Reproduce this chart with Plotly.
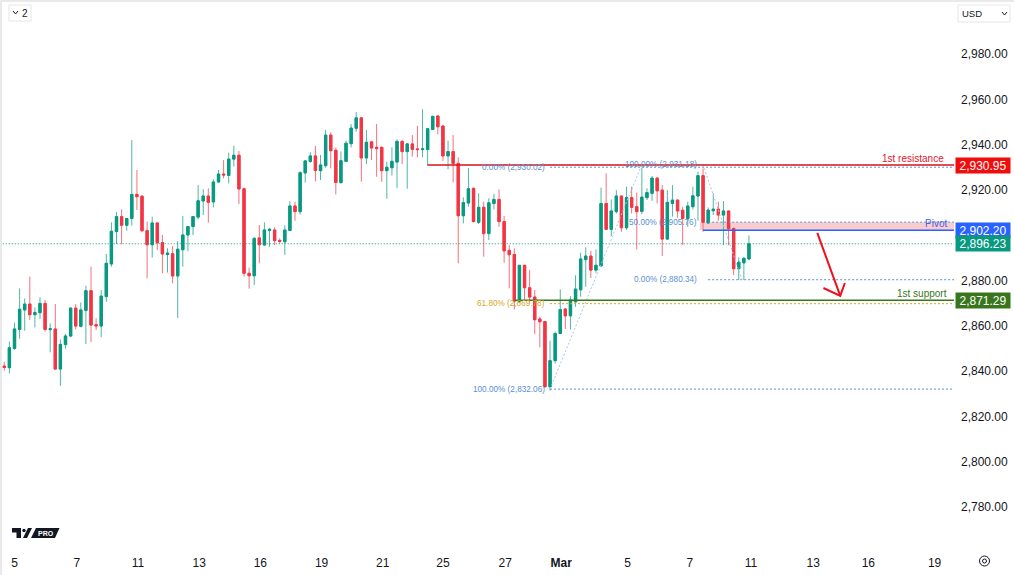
import plotly.graph_objects as go

# 2h bars
opens = [2842.2, 2841.5, 2850.0, 2858.4, 2867.0, 2869.6, 2864.9, 2865.8, 2869.9, 2858.3,
         2858.6, 2840.9, 2851.7, 2855.5, 2867.8, 2859.8, 2866.8, 2875.5, 2860.5, 2859.9,
         2872.9, 2887.3, 2901.6, 2908.2, 2904.4, 2907.4, 2918.0, 2917.2, 2902.0, 2895.8,
         2905.4, 2896.7, 2891.5, 2891.8, 2882.0, 2893.6, 2900.1, 2903.8, 2908.0, 2915.1,
         2917.3, 2914.7, 2923.5, 2927.0, 2926.4, 2933.6, 2935.3, 2920.5, 2883.2, 2882.1,
         2898.8, 2895.7, 2902.1, 2902.3, 2897.7, 2897.1, 2902.1, 2912.9, 2910.4, 2927.5,
         2932.6, 2935.0, 2928.5, 2930.7, 2944.2, 2937.5, 2923.2, 2932.6, 2940.4, 2947.2,
         2951.8, 2934.1, 2941.2, 2938.8, 2938.8, 2928.5, 2929.8, 2932.3, 2941.4, 2936.9,
         2940.3, 2938.1, 2937.8, 2937.8, 2946.7, 2952.6, 2948.2, 2935.0, 2936.9, 2931.7,
         2908.6, 2914.2, 2920.7, 2905.7, 2912.3, 2900.7, 2914.0, 2915.8, 2906.0, 2893.3,
         2891.5, 2870.6, 2886.7, 2876.8, 2872.7, 2863.0, 2861.9, 2833.1, 2844.6, 2856.6,
         2867.4, 2864.4, 2870.6, 2875.9, 2889.2, 2890.8, 2884.6, 2886.4, 2914.0, 2902.6,
         2910.4, 2917.3, 2903.3, 2916.6, 2912.6, 2910.5, 2916.6, 2918.5, 2925.2, 2919.9,
         2898.3, 2914.0, 2915.5, 2911.0, 2907.4, 2912.6, 2917.3, 2926.3, 2905.4, 2910.8,
         2911.5, 2908.9, 2910.7, 2902.9, 2885.2, 2887.8, 2889.5]
highs = [2844.1, 2853.0, 2861.4, 2876.5, 2872.1, 2881.7, 2868.1, 2872.6, 2871.4, 2861.1,
         2869.6, 2854.0, 2856.4, 2868.1, 2869.6, 2870.3, 2877.7, 2886.1, 2863.3, 2875.8,
         2891.7, 2905.7, 2910.2, 2911.4, 2907.4, 2942.0, 2928.8, 2917.7, 2906.0, 2908.2,
         2905.5, 2900.1, 2894.2, 2895.2, 2897.4, 2908.5, 2904.1, 2908.2, 2922.2, 2920.3,
         2920.7, 2924.7, 2928.8, 2933.2, 2936.4, 2939.5, 2937.2, 2921.1, 2885.7, 2899.1,
         2904.5, 2905.7, 2903.2, 2903.5, 2898.6, 2904.4, 2915.0, 2914.8, 2928.2, 2933.2,
         2936.7, 2939.4, 2935.4, 2946.5, 2945.4, 2938.7, 2936.9, 2941.7, 2949.1, 2954.4,
         2952.0, 2946.5, 2941.6, 2949.1, 2939.1, 2932.5, 2938.8, 2942.3, 2942.0, 2940.6,
         2944.2, 2948.2, 2955.6, 2947.0, 2952.6, 2953.1, 2948.7, 2941.7, 2944.2, 2934.4,
         2916.7, 2929.7, 2921.0, 2918.5, 2914.8, 2916.3, 2918.2, 2920.2, 2908.5, 2895.6,
         2894.2, 2886.8, 2886.8, 2884.6, 2875.8, 2864.0, 2862.1, 2853.4, 2857.4, 2876.1,
         2867.7, 2873.1, 2882.3, 2892.3, 2894.6, 2893.1, 2893.7, 2921.0, 2927.3, 2915.8,
         2919.9, 2917.3, 2921.4, 2921.4, 2918.8, 2929.9, 2920.7, 2926.1, 2925.5, 2922.1,
         2919.9, 2922.1, 2915.8, 2912.6, 2914.8, 2921.4, 2928.0, 2929.5, 2912.3, 2918.5,
         2914.8, 2915.1, 2910.7, 2903.4, 2890.2, 2890.2, 2899.9]
lows = [2840.2, 2839.0, 2849.3, 2854.3, 2857.8, 2862.5, 2859.3, 2863.0, 2857.4, 2848.3,
        2840.8, 2833.5, 2849.9, 2854.9, 2858.4, 2859.3, 2851.9, 2852.8, 2858.1, 2855.0,
        2870.6, 2886.1, 2896.1, 2896.0, 2902.0, 2904.2, 2911.1, 2901.3, 2880.9, 2890.1,
        2893.5, 2883.2, 2883.5, 2878.7, 2863.4, 2886.1, 2892.9, 2900.1, 2907.0, 2908.9,
        2905.5, 2912.3, 2923.3, 2925.1, 2922.9, 2930.3, 2913.8, 2881.7, 2876.4, 2878.0,
        2887.6, 2895.2, 2894.9, 2895.7, 2896.1, 2891.3, 2902.0, 2906.4, 2909.1, 2923.2,
        2932.0, 2923.8, 2924.4, 2929.8, 2929.5, 2918.0, 2922.9, 2932.3, 2938.8, 2945.7,
        2923.6, 2931.4, 2933.2, 2925.8, 2923.6, 2916.1, 2926.4, 2920.8, 2931.4, 2920.5,
        2934.7, 2934.4, 2934.4, 2930.7, 2946.5, 2944.5, 2932.8, 2929.1, 2923.3, 2887.6,
        2905.2, 2912.6, 2905.7, 2904.9, 2890.5, 2897.9, 2911.4, 2903.7, 2887.8, 2876.5,
        2867.2, 2870.2, 2871.4, 2870.2, 2856.3, 2850.5, 2832.8, 2831.3, 2843.4, 2856.3,
        2858.6, 2858.4, 2868.4, 2872.8, 2877.2, 2881.1, 2883.4, 2886.4, 2902.3, 2899.6,
        2909.6, 2901.5, 2902.3, 2909.6, 2893.7, 2909.3, 2915.5, 2915.2, 2914.0, 2890.8,
        2897.9, 2908.2, 2907.7, 2895.6, 2903.7, 2911.4, 2906.4, 2901.5, 2904.9, 2908.9,
        2906.4, 2895.6, 2895.6, 2882.4, 2880.2, 2880.2, 2889.0]
closes = [2841.6, 2850.3, 2858.6, 2867.3, 2869.6, 2864.9, 2865.9, 2869.9, 2858.4, 2858.7,
          2840.9, 2851.8, 2855.5, 2867.8, 2859.9, 2867.0, 2875.5, 2860.3, 2859.9, 2873.1,
          2887.6, 2901.7, 2908.2, 2904.4, 2907.4, 2918.0, 2917.0, 2902.0, 2895.8, 2905.4,
          2896.7, 2891.7, 2892.1, 2882.0, 2893.8, 2900.1, 2903.8, 2908.2, 2915.2, 2917.3,
          2914.5, 2923.5, 2927.0, 2926.6, 2933.6, 2935.3, 2920.4, 2883.2, 2882.1, 2898.6,
          2895.8, 2902.3, 2902.6, 2897.6, 2897.3, 2902.3, 2912.9, 2910.4, 2927.6, 2932.8,
          2935.0, 2928.6, 2931.0, 2944.2, 2937.3, 2923.3, 2932.9, 2940.6, 2947.3, 2951.8,
          2934.1, 2941.0, 2938.5, 2938.2, 2928.5, 2930.0, 2932.6, 2941.4, 2936.9, 2940.3,
          2937.9, 2937.8, 2938.1, 2947.0, 2952.5, 2947.9, 2935.0, 2936.9, 2931.7, 2908.6,
          2914.4, 2920.5, 2906.0, 2912.3, 2900.7, 2914.3, 2915.8, 2906.0, 2893.1, 2891.4,
          2870.9, 2886.7, 2876.8, 2872.7, 2862.7, 2861.8, 2833.1, 2844.6, 2856.6, 2867.2,
          2864.4, 2871.4, 2876.2, 2889.5, 2890.8, 2884.6, 2886.7, 2914.0, 2902.6, 2910.7,
          2917.3, 2903.3, 2916.6, 2912.3, 2910.4, 2916.8, 2918.8, 2925.2, 2919.6, 2898.3,
          2914.5, 2915.5, 2910.7, 2907.4, 2912.9, 2917.4, 2926.3, 2905.7, 2911.1, 2911.5,
          2908.9, 2910.7, 2902.9, 2885.2, 2888.1, 2889.8, 2896.2]
bars = list(range(len(opens)))

x_tick_bars = [2, 14.2, 26.2, 38.2, 50.2, 62.2, 74.2, 86, 98.2, 109.2, 122.2, 134.4, 146.4, 158.6, 169.4, 182.4]
x_tick_text = ["5", "7", "11", "13", "16", "19", "21", "25", "27", "<b>Mar</b>", "5", "7", "11", "13", "16", "19"]
y_ticks = [2780, 2800, 2820, 2840, 2860, 2880, 2920, 2940, 2960, 2980]

resistance = 2930.95
pivot = 2902.20
last_price = 2896.23
support = 2871.29

fib_prices = [2930.02, 2869.78, 2832.06, 2931.18, 2905.76, 2880.34]
fib_labels = ["0.00% (2,930.02)", "61.80% (2,869.78)", "100.00% (2,832.06)",
              "100.00% (2,931.18)", "50.00% (2,905.76)", "0.00% (2,880.34)"]
fib_start = [107, 107, 107, 125, 138, 138]
fib_colors = ["#5b8fd0", "#d4a72c", "#5b8fd0", "#5b8fd0", "#5b8fd0", "#5b8fd0"]

arrow_x = [159.4, 163.9]
arrow_y = [2901.0, 2873.2]
arrow_head_x = [160.6, 163.9, 164.8]
arrow_head_y = [2876.7, 2873.2, 2878.9]

W = 1014
H = 575
RIGHT_EDGE = 954
BOTTOM_EDGE = 548


def px(v):
    return v / W


def py(v):
    return 1 - v / H


fig = go.Figure()

# wicks first in a paler colour, bodies drawn over them
fig.add_trace(go.Candlestick(
    x=bars, open=opens, high=highs, low=lows, close=closes,
    increasing=dict(line=dict(color="#4db8a4", width=1), fillcolor="#4db8a4"),
    decreasing=dict(line=dict(color="#f6707c", width=1), fillcolor="#f6707c"),
    whiskerwidth=0, showlegend=False,
))
fig.add_trace(go.Candlestick(
    x=bars, open=opens, close=closes,
    high=[max(a, b) for a, b in zip(opens, closes)],
    low=[min(a, b) for a, b in zip(opens, closes)],
    increasing=dict(line=dict(color="#089981", width=1), fillcolor="#089981"),
    decreasing=dict(line=dict(color="#f23645", width=1), fillcolor="#f23645"),
    whiskerwidth=0, showlegend=False,
))


def hline(start, price, color, width=1, dash="solid"):
    fig.add_trace(go.Scatter(x=[start, 186.3], y=[price, price], mode="lines",
                             line=dict(color=color, width=width, dash=dash),
                             showlegend=False, hoverinfo="skip"))


hline(-0.9, last_price, "#089981", 1, "1px,2px")
for start, price, color in zip(fib_start, fib_prices, fib_colors):
    if start == 125:
        continue
    hline(start, price, color, 1, "2px,2px")

# fib trend lines
fig.add_trace(go.Scatter(x=[107, 125], y=[fib_prices[2], fib_prices[3]], mode="lines",
                         line=dict(color="#a9c4e8", width=1, dash="2px,2px"), showlegend=False))
fig.add_trace(go.Scatter(x=[137, 144.6], y=[fib_prices[3], fib_prices[5]], mode="lines",
                         line=dict(color="#a9c4e8", width=1, dash="2px,2px"), showlegend=False))

hline(83, resistance, "#d8101c", 1.5)
hline(100, support, "#38761d", 1.5)
hline(137, pivot, "#2962ff", 1.5)

fig.add_trace(go.Scatter(x=arrow_x, y=arrow_y, mode="lines",
                         line=dict(color="#f00f1a", width=2), showlegend=False))
fig.add_trace(go.Scatter(x=arrow_head_x, y=arrow_head_y, mode="lines",
                         line=dict(color="#f00f1a", width=2), showlegend=False))

# pivot zone
fig.add_shape(type="rect", x0=136.4, x1=186.3, y0=pivot, y1=fib_prices[4],
              fillcolor="#f9ccd0", line_width=0, layer="below")

# grey strips on the window edge
fig.add_shape(type="rect", xref="paper", yref="paper", x0=0, x1=px(2), y0=0, y1=1,
              fillcolor="#e9e9ea", line_width=0)
fig.add_shape(type="rect", xref="paper", yref="paper", x0=0, x1=1, y0=py(2), y1=1,
              fillcolor="#e9e9ea", line_width=0)

# fib labels, right aligned where their lines start
for price, label, color, right in zip(fib_prices, fib_labels, fib_colors,
                                      [547, 547, 547, 699, 699, 699]):
    fig.add_annotation(x=px(right), xref="paper", xanchor="right", y=price, yref="y", yanchor="middle",
                       text=label, showarrow=False, font=dict(size=8.2, color=color))

for text, right, ypos, color in [("1st resistance", 946, 158, "#e8131f"),
                                 ("Pivot", 949, 223, "#3f66e0"),
                                 ("1st support", 949, 293, "#38761d")]:
    fig.add_annotation(x=px(right), xref="paper", xanchor="right", y=py(ypos), yref="paper", yanchor="middle",
                       text=text, showarrow=False, font=dict(size=10, color=color))

# price badges
for price, text, color in [(resistance, "2,930.95", "#f20d0d"), (pivot, "2,902.20", "#2962ff"),
                           (last_price, "2,896.23", "#089981"), (support, "2,871.29", "#38761d")]:
    fig.add_annotation(x=px(955), xref="paper", xanchor="left", y=price, yref="y", yanchor="middle",
                       text=text, showarrow=False, width=54, height=15, borderpad=0,
                       bgcolor=color, font=dict(size=12, color="white"))

# interval button and currency button
fig.add_shape(type="rect", xref="paper", yref="paper", x0=px(9), x1=px(31), y0=py(21), y1=py(5),
              line=dict(color="#e6e6e8", width=1), fillcolor="white")
fig.add_shape(type="path", xref="paper", yref="paper",
              path=f"M{px(13)},{py(11)} L{px(15.5)},{py(14)} L{px(18)},{py(11)}",
              line=dict(color="#131722", width=1))
fig.add_annotation(x=px(25), xref="paper", xanchor="center", y=py(13), yref="paper", yanchor="middle",
                   text="2", showarrow=False, font=dict(size=10, color="#131722"))
fig.add_shape(type="rect", xref="paper", yref="paper", x0=px(958), x1=px(1010), y0=py(22), y1=py(5),
              line=dict(color="#e6e6e8", width=1), fillcolor="white")
fig.add_annotation(x=px(960), xref="paper", xanchor="left", y=py(13), yref="paper", yanchor="middle",
                   text="USD", showarrow=False, font=dict(size=9.5, color="#131722"))
fig.add_shape(type="path", xref="paper", yref="paper",
              path=f"M{px(1002)},{py(12)} L{px(1004.5)},{py(15)} L{px(1007)},{py(12)}",
              line=dict(color="#131722", width=1))

# TV PRO mark
for path in [[(12, 528), (21, 528), (21, 538), (16.5, 538), (16.5, 532.5), (12, 532.5)],
             [(28, 528), (32, 528), (27, 538), (23, 538)],
             [(36, 528), (59.5, 528), (55, 538), (31, 538)]]:
    d = "M" + " L".join(f"{px(a)},{py(b)}" for a, b in path) + " Z"
    fig.add_shape(type="path", xref="paper", yref="paper", path=d, fillcolor="#131722", line_width=0)
fig.add_shape(type="circle", xref="paper", yref="paper", x0=px(22.3), x1=px(25.7), y0=py(532.2), y1=py(528.8),
              fillcolor="#131722", line_width=0)
fig.add_annotation(x=px(45.5), xref="paper", xanchor="center", y=py(533), yref="paper", yanchor="middle",
                   text="<b>PRO</b>", showarrow=False, font=dict(size=7, color="white"))

# settings icon
fig.add_shape(type="circle", xref="paper", yref="paper", x0=px(979.5), x1=px(989.5), y0=py(566), y1=py(556),
              line=dict(color="#131722", width=1))
fig.add_shape(type="circle", xref="paper", yref="paper", x0=px(982.5), x1=px(986.5), y0=py(563), y1=py(559),
              line=dict(color="#131722", width=1))

fig.update_layout(
    width=W, height=H,
    margin=dict(l=0, r=0, t=0, b=0),
    paper_bgcolor="white", plot_bgcolor="white",
    boxgap=0.35,
    boxmode="overlay",
    hovermode=False,
    font=dict(family="Liberation Sans", size=12, color="#131722"),
    xaxis=dict(domain=[0, RIGHT_EDGE / W], range=[-0.843, 186.2],
               showgrid=False, zeroline=False, rangeslider=dict(visible=False),
               tickmode="array", tickvals=x_tick_bars, ticktext=x_tick_text,
               ticks="", ticklabelstandoff=6),
    yaxis=dict(domain=[1 - BOTTOM_EDGE / H, 1], range=[2761.9, 3003.84], side="right",
               showgrid=False, zeroline=False, tickmode="array", tickvals=y_ticks,
               tickformat=",.2f", ticks="", ticklabelstandoff=6, anchor="x"),
)

fig.write_html("out.html", config=dict(displayModeBar=False),
               post_script="document.body.style.margin='0';")
